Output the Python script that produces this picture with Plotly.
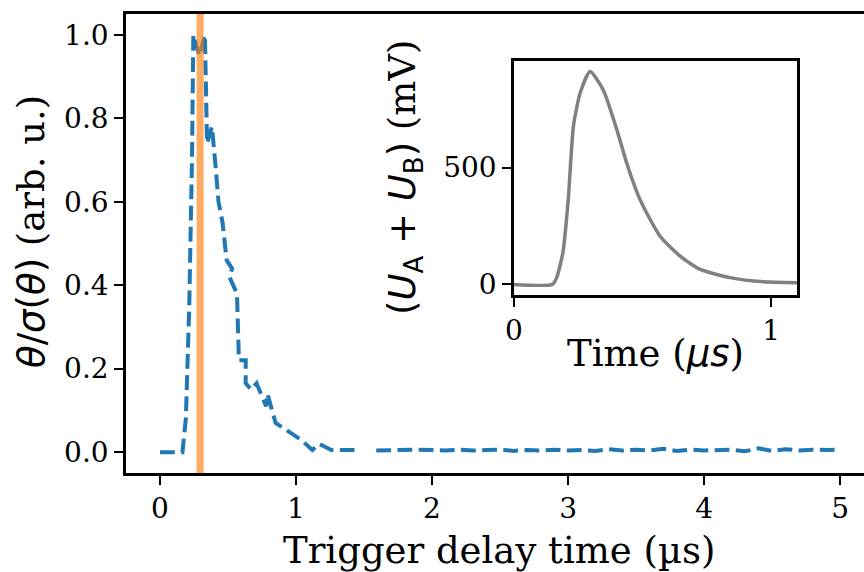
import plotly.graph_objects as go

# Main curve: trigger delay time (µs) vs normalised theta
delay_us = [0.0, 0.05, 0.10, 0.165, 0.19, 0.215, 0.235, 0.245, 0.29, 0.33, 0.346, 0.382,
            0.41, 0.43, 0.46, 0.48, 0.49, 0.53, 0.51, 0.566, 0.58, 0.63, 0.63, 0.67, 0.71,
            0.78, 0.79, 0.85, 0.93, 1.0, 1.04, 1.12, 1.17, 1.26, 1.34, 1.44, 1.50,
            1.59, 1.7, 1.8, 1.9, 2.0, 2.1, 2.2, 2.3, 2.4, 2.5, 2.6, 2.7, 2.8, 2.9, 3.0,
            3.1, 3.2, 3.3, 3.4, 3.5, 3.6, 3.7, 3.8, 3.9, 4.0, 4.1, 4.2, 4.3, 4.4, 4.5,
            4.6, 4.7, 4.8, 4.9, 5.0]
theta_norm = [0.0, 0.0, 0.002, 0.0, 0.08, 0.35, 0.70, 1.0, 0.95, 1.0, 0.74, 0.78,
              0.68, 0.60, 0.55, 0.50, 0.46, 0.44, 0.42, 0.38, 0.22, 0.22, 0.165, 0.15, 0.165,
              0.11, 0.14, 0.07, 0.053, 0.036, 0.029, 0.005, 0.02, 0.005, 0.005, 0.005, None,
              0.004, 0.005, 0.004, 0.006, 0.005, 0.004, 0.006, 0.004, 0.005, 0.006, 0.003,
              0.005, 0.004, 0.006, 0.004, 0.005, 0.003, 0.007, 0.004, 0.006, 0.004, 0.008,
              0.003, 0.006, 0.004, 0.005, 0.006, 0.002, 0.009, 0.003, 0.007, 0.004, 0.006,
              0.005, 0.006]

# Highlighted delay
marker_delay = 0.295

# Inset: photodiode sum signal
inset_time_us = [0.0, 0.15, 0.166, 0.19, 0.211, 0.231, 0.257, 0.296, 0.347, 0.40, 0.438,
                 0.49, 0.568, 0.646, 0.724, 0.84, 0.97, 1.1]
inset_mv = [0, 0, 29, 135, 363, 677, 819, 912, 833, 662, 520, 363, 206, 121, 64, 29, 11, 7]

serif = "DejaVu Serif"
sans = "DejaVu Sans"
TICK = 28
LAB = 37

fig = go.Figure()

fig.add_trace(go.Scatter(
    x=delay_us, y=theta_norm, mode="lines",
    line=dict(color="#1f77b4", width=4, dash="14.8px,6.4px"),
    connectgaps=False, showlegend=False, xaxis="x", yaxis="y"))

fig.add_shape(type="line", x0=marker_delay, x1=marker_delay, y0=0, y1=1,
              xref="x", yref="y domain",
              line=dict(color="rgba(255,127,14,0.65)", width=7), layer="above")

fig.add_trace(go.Scatter(
    x=inset_time_us, y=inset_mv, mode="lines",
    line=dict(color="#808080", width=3.5, shape="spline", smoothing=0.6),
    showlegend=False, xaxis="x2", yaxis="y2"))

axis_common = dict(showgrid=False, zeroline=False, showline=True, linecolor="black",
                   linewidth=2.5, ticks="outside", ticklen=9, tickwidth=2.2,
                   tickcolor="black", tickfont=dict(family=serif, size=TICK, color="black"))

fig.update_layout(
    width=864, height=572,
    margin=dict(l=126, r=0, t=14, b=99),
    paper_bgcolor="white", plot_bgcolor="white",
    xaxis=dict(range=[-0.25, 5.176], tickvals=[0, 1, 2, 3, 4, 5], mirror=True,
               domain=[0, 1], **axis_common),
    yaxis=dict(range=[-0.05, 1.05], tickvals=[0, 0.2, 0.4, 0.6, 0.8, 1.0],
               tickformat=".1f", domain=[0, 1], **axis_common),
    xaxis2=dict(range=[0, 1.1], tickvals=[0, 1], mirror=True, anchor="y2",
                domain=[0.5257, 0.9092], **axis_common),
    yaxis2=dict(range=[-45.5, 957], tickvals=[0, 500], mirror=True, anchor="x2",
                domain=[0.3878, 0.8976], **axis_common),
)

fig.add_annotation(text="Trigger delay time (µs)", xref="paper", yref="paper",
                   x=(499 - 126) / 738, y=-(550 - 473) / 459, xanchor="center", yanchor="middle",
                   showarrow=False, font=dict(family=serif, size=LAB, color="black"))

fig.add_annotation(
    text=f"<span style=\"font-family:'{sans}'\"><i>θ</i>/<i>σ</i>(<i>θ</i>)</span> (arb. u.)",
    xref="paper", yref="paper", x=(31 - 126) / 738, y=(473 - 232) / 459,
    xanchor="center", yanchor="middle",
    textangle=-90, showarrow=False, font=dict(family=serif, size=LAB, color="black"))

fig.add_annotation(
    text=f"<span style=\"font-family:'{sans}'\">(<i>U</i><sub>A</sub> + <i>U</i><sub>B</sub>)</span> (mV)",
    xref="paper", yref="paper", x=(405 - 126) / 738, y=(473 - 177) / 459,
    xanchor="center", yanchor="middle",
    textangle=-90, showarrow=False, font=dict(family=serif, size=LAB, color="black"))

fig.add_annotation(
    text=f"Time (<span style=\"font-family:'{sans}'\"><i>μs</i></span>)",
    xref="paper", yref="paper", x=(655 - 126) / 738, y=(473 - 353) / 459,
    xanchor="center", yanchor="middle",
    showarrow=False, font=dict(family=serif, size=LAB, color="black"))

fig.write_html("out.html")
